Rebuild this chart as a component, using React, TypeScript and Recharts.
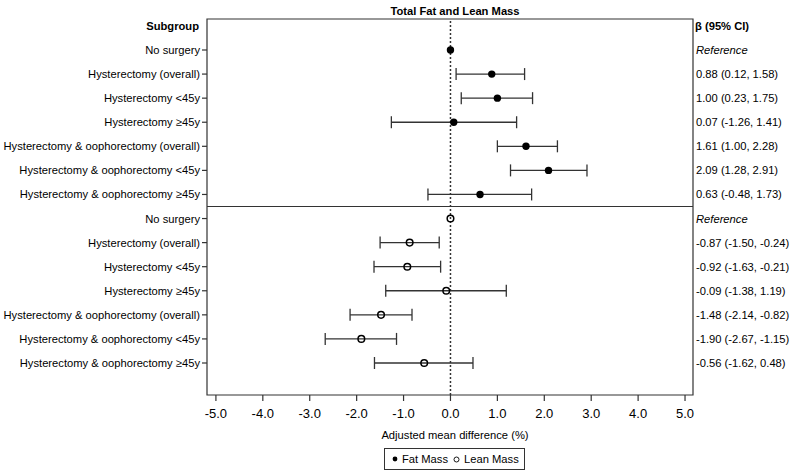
import React from 'react';
import { ComposedChart, Scatter, XAxis, YAxis, ErrorBar, ReferenceLine, ReferenceArea } from 'recharts';

const subgroups = [
  'No surgery',
  'Hysterectomy (overall)',
  'Hysterectomy <45y',
  'Hysterectomy ≥45y',
  'Hysterectomy & oophorectomy (overall)',
  'Hysterectomy & oophorectomy <45y',
  'Hysterectomy & oophorectomy ≥45y',
];
const fatBeta = [0, 0.88, 1.0, 0.07, 1.61, 2.09, 0.63];
const fatLow: (number | null)[] = [null, 0.12, 0.23, -1.26, 1.0, 1.28, -0.48];
const fatHigh: (number | null)[] = [null, 1.58, 1.75, 1.41, 2.28, 2.91, 1.73];
const leanBeta = [0, -0.87, -0.92, -0.09, -1.48, -1.9, -0.56];
const leanLow: (number | null)[] = [null, -1.5, -1.63, -1.38, -2.14, -2.67, -1.62];
const leanHigh: (number | null)[] = [null, -0.24, -0.21, 1.19, -0.82, -1.15, 0.48];
const xTicks = [-5, -4, -3, -2, -1, 0, 1, 2, 3, 4, 5];

const FONT = '"Liberation Sans", Arial, Helvetica, sans-serif';
const X_DOMAIN: [number, number] = [-5.19, 5.17];
const Y_DOMAIN: [number, number] = [-1.2875, 14.329];

const fmt = (v: number) => v.toFixed(2);
const ciText = (b: number, lo: number | null, hi: number | null) =>
  lo == null || hi == null ? 'Reference' : `${fmt(b)} (${fmt(lo)}, ${fmt(hi)})`;

const rowLabels = [...subgroups, ...subgroups];
const rightLabels = [
  ...fatBeta.map((b, i) => ciText(b, fatLow[i], fatHigh[i])),
  ...leanBeta.map((b, i) => ciText(b, leanLow[i], leanHigh[i])),
];
const rowTicks = rowLabels.map((_, i) => i);

const fatData = fatBeta.map((b, i) => ({
  x: b,
  y: i,
  err: fatLow[i] == null ? null : [b - (fatLow[i] as number), (fatHigh[i] as number) - b],
}));
const leanData = leanBeta.map((b, i) => ({
  x: b,
  y: i + subgroups.length,
  err: leanLow[i] == null ? null : [b - (leanLow[i] as number), (leanHigh[i] as number) - b],
}));

const LeftTick = (props: any) => {
  const { x, y, payload } = props;
  return (
    <text x={x} y={y} dy={4} textAnchor="end" fontSize={11.2} fontFamily={FONT} fill="#000">
      {rowLabels[payload.value]}
    </text>
  );
};

const RightTick = (props: any) => {
  const { x, y, payload } = props;
  const t = rightLabels[payload.value];
  return (
    <text
      x={x}
      y={y}
      dy={4}
      textAnchor="start"
      fontSize={11.2}
      fontFamily={FONT}
      fill="#000"
      fontStyle={t === 'Reference' ? 'italic' : 'normal'}
    >
      {t}
    </text>
  );
};

const XTick = (props: any) => {
  const { x, y, payload } = props;
  return (
    <text x={x} y={y} dy="0.71em" textAnchor="middle" fontSize={13} fontFamily={FONT} fill="#000">
      {Number(payload.value).toFixed(1)}
    </text>
  );
};

const FatDot = (p: any) => <circle cx={p.cx} cy={p.cy} r={3.7} fill="#000" />;
const LeanDot = (p: any) => <circle cx={p.cx} cy={p.cy} r={3.3} fill="none" stroke="#000" strokeWidth={1.5} />;

const textBase: React.CSSProperties = {
  position: 'absolute',
  fontFamily: FONT,
  fontSize: 11.2,
  lineHeight: '14px',
  color: '#000',
  whiteSpace: 'nowrap',
};

export default function App() {
  return (
    <div style={{ position: 'absolute', left: 0, top: 0, width: 800, height: 471, background: '#fff' }}>
      <ComposedChart
        width={800}
        height={471}
        margin={{ top: 19, right: 0, bottom: 46, left: 0 }}
      >
        <XAxis
          type="number"
          dataKey="x"
          domain={X_DOMAIN}
          allowDataOverflow
          ticks={xTicks}
          interval={0}
          height={30}
          axisLine={false}
          tickLine={{ stroke: '#333', strokeWidth: 1.2 }}
          tickSize={6}
          tickMargin={8}
          tick={<XTick />}
        />
        <YAxis
          type="number"
          dataKey="y"
          domain={Y_DOMAIN}
          allowDataOverflow
          reversed
          ticks={rowTicks}
          interval={0}
          width={207}
          axisLine={false}
          tickLine={{ stroke: '#333', strokeWidth: 1.2 }}
          tickSize={5}
          tickMargin={2}
          tick={<LeftTick />}
        />
        <YAxis
          yAxisId="right"
          orientation="right"
          type="number"
          domain={Y_DOMAIN}
          allowDataOverflow
          reversed
          ticks={rowTicks}
          interval={0}
          width={107}
          axisLine={false}
          tickLine={false}
          tickSize={0}
          tickMargin={3}
          tick={<RightTick />}
        />
        <ReferenceArea
          x1={X_DOMAIN[0]}
          x2={X_DOMAIN[1]}
          y1={Y_DOMAIN[0]}
          y2={Y_DOMAIN[1]}
          fill="none"
          fillOpacity={0}
          stroke="#333"
          strokeWidth={1.2}
          ifOverflow="visible"
        />
        <ReferenceLine y={6.5} stroke="#333" strokeWidth={1.2} />
        <ReferenceLine x={0} stroke="#333" strokeWidth={1.5} strokeDasharray="2 2" />
        <Scatter name="Fat Mass" data={fatData} shape={FatDot} isAnimationActive={false}>
          <ErrorBar dataKey="err" direction="x" width={6} stroke="#333" strokeWidth={1.3} />
        </Scatter>
        <Scatter name="Lean Mass" data={leanData} shape={LeanDot} isAnimationActive={false}>
          <ErrorBar dataKey="err" direction="x" width={6} stroke="#333" strokeWidth={1.3} />
        </Scatter>
      </ComposedChart>

      <div style={{ ...textBase, fontWeight: 'bold', left: 455, top: 4, transform: 'translateX(-50%)' }}>
        Total Fat and Lean Mass
      </div>
      <div style={{ ...textBase, fontWeight: 'bold', right: 800 - 199, top: 19 }}>Subgroup</div>
      <div style={{ ...textBase, fontWeight: 'bold', left: 695, top: 19 }}>β (95% CI)</div>
      <div style={{ ...textBase, left: 455, top: 428, transform: 'translateX(-50%)' }}>
        Adjusted mean difference (%)
      </div>
      <div
        style={{
          position: 'absolute',
          left: 384,
          top: 448,
          width: 141,
          height: 22,
          boxSizing: 'border-box',
          border: '1px solid #333',
          display: 'flex',
          alignItems: 'center',
          paddingLeft: 7,
          fontFamily: FONT,
          fontSize: 11.2,
          color: '#000',
          whiteSpace: 'nowrap',
        }}
      >
        <svg width={6} height={6} style={{ marginRight: 4 }}>
          <circle cx={3} cy={3} r={2.4} fill="#000" />
        </svg>
        <span>Fat Mass</span>
        <svg width={7} height={7} style={{ marginLeft: 5, marginRight: 4 }}>
          <circle cx={3.5} cy={3.5} r={2.5} fill="none" stroke="#000" strokeWidth={0.9} />
        </svg>
        <span>Lean Mass</span>
      </div>
    </div>
  );
}
